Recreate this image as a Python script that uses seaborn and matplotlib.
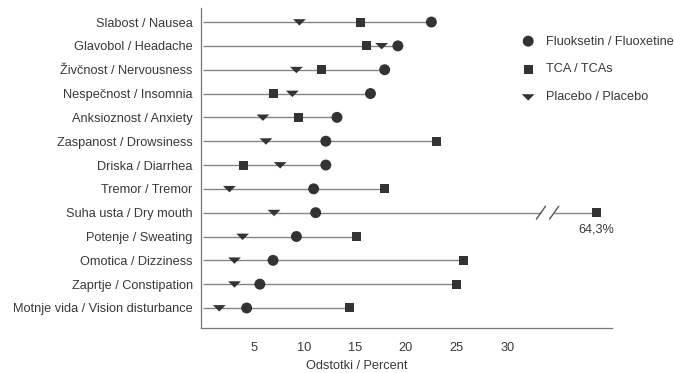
import numpy as np
import pandas as pd
import matplotlib
matplotlib.use("Agg")
import matplotlib.pyplot as plt
import seaborn as sns

categories = [
    "Slabost / Nausea",
    "Glavobol / Headache",
    "Živčnost / Nervousness",
    "Nespečnost / Insomnia",
    "Anksioznost / Anxiety",
    "Zaspanost / Drowsiness",
    "Driska / Diarrhea",
    "Tremor / Tremor",
    "Suha usta / Dry mouth",
    "Potenje / Sweating",
    "Omotica / Dizziness",
    "Zaprtje / Constipation",
    "Motnje vida / Vision disturbance",
]
fluoxetine = [22.5, 19.2, 17.9, 16.5, 13.2, 12.1, 12.1, 10.9, 11.1, 9.2, 6.9, 5.6, 4.3]
tca = [15.5, 16.1, 11.7, 6.9, 9.4, 23.0, 4.0, 17.9, 64.3, 15.1, 25.7, 25.0, 14.4]
placebo = [9.5, 17.6, 9.2, 8.8, 5.9, 6.2, 7.6, 2.6, 7.0, 3.9, 3.1, 3.1, 1.6]
series_names = ["Fluoksetin / Fluoxetine", "TCA / TCAs", "Placebo / Placebo"]
x_ticks = [5, 10, 15, 20, 25, 30]

# Broken scale: the stretch between BREAK_LO and BREAK_HI is cut out
BREAK_LO, BREAK_HI = 34.0, 59.5


def to_axis(v):
    v = np.asarray(v, dtype=float)
    return np.where(v > BREAK_LO, v - (BREAK_HI - BREAK_LO), v)


frames = []
for name, vals in zip(series_names, [fluoxetine, tca, placebo]):
    frames.append(pd.DataFrame({"kategorija": categories, "vrednost": vals, "skupina": name}))
df = pd.concat(frames, ignore_index=True)
df["pozicija"] = to_axis(df["vrednost"])
df["vrstica"] = df["kategorija"].map({c: i for i, c in enumerate(categories)})

sns.set_theme(style="white")
plt.rcParams["font.family"] = ["Liberation Sans", "DejaVu Sans"]

FS = 9.2
fig = plt.figure(figsize=(6.74, 3.73), dpi=100)
ax = fig.add_axes([201 / 674, 1 - 328 / 373, 411 / 674, 320 / 373])

ink = "#333333"
text_c = "#383838"

# Leader lines from zero to the farthest marker of each row
row_max = df.groupby("vrstica")["pozicija"].max()
dry = categories.index("Suha usta / Dry mouth")
for r, m in row_max.items():
    if r == dry:
        ax.hlines(r, 0, 33.3, color="#858585", lw=1.0, zorder=1)
        ax.hlines(r, 34.6, m, color="#858585", lw=1.0, zorder=1)
    else:
        ax.hlines(r, 0, m, color="#858585", lw=1.0, zorder=1)

# Break marks on the dry-mouth row
for xb in (33.3, 34.6):
    ax.plot([xb - 0.45, xb + 0.45], [dry + 0.27, dry - 0.27], color="#555555", lw=1.0, zorder=2)

flat_tri = [(-1.0, 0.45), (1.0, 0.45), (0.0, -0.55), (-1.0, 0.45)]
markers = {series_names[0]: "o", series_names[1]: "s", series_names[2]: flat_tri}
sizes = {series_names[0]: 62, series_names[1]: 42, series_names[2]: 85}

for name in series_names:
    sub = df[df["skupina"] == name]
    sns.scatterplot(data=sub, x="pozicija", y="vrstica", marker=markers[name],
                    s=sizes[name], color=ink, edgecolor="none", ax=ax, zorder=3,
                    legend=False, label=name)

# Value label for the off-scale TCA point
tca_dry = df[(df["skupina"] == series_names[1]) & (df["vrstica"] == dry)].iloc[0]
ax.annotate(f"{tca_dry['vrednost']:.1f}%".replace(".", ","),
            xy=(tca_dry["pozicija"], dry), xytext=(0, -8), textcoords="offset points",
            ha="center", va="top", fontsize=FS, color=text_c)

ax.set_xlim(-0.2, 40.3)
ax.set_ylim(len(categories) - 1 + 0.84, -0.59)
ax.set_yticks(range(len(categories)))
ax.set_yticklabels(categories, fontsize=FS, color=text_c)
ax.set_xticks(x_ticks)
ax.set_xticklabels([str(t) for t in x_ticks], fontsize=FS, color=text_c)
ax.tick_params(axis="x", direction="out", length=3, width=0.8, color="#666666", pad=7)
ax.tick_params(axis="y", length=0, pad=6)
ax.set_xlabel("Odstotki / Percent", fontsize=FS, color=text_c)
ax.set_ylabel("")
ax.xaxis.set_label_coords(0.38, -0.1)

sns.despine(ax=ax)
for s in ("left", "bottom"):
    ax.spines[s].set_color("#777777")
    ax.spines[s].set_linewidth(0.9)

# Legend
handles, labels = ax.get_legend_handles_labels()
leg = ax.legend(handles, labels, loc="upper left", bbox_to_anchor=(0.765, 0.93),
                frameon=False, fontsize=FS, labelspacing=1.25, handletextpad=0.8,
                borderaxespad=0, handlelength=1.2)
for t in leg.get_texts():
    t.set_color(text_c)

fig.savefig("out.png", dpi=100)
